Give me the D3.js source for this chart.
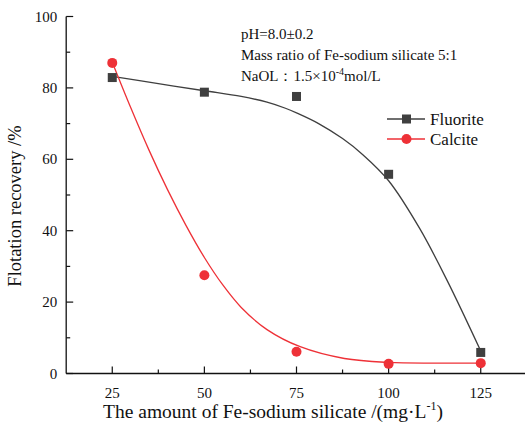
<!DOCTYPE html>
<html>
<head>
<meta charset="utf-8">
<script src="https://cdn.jsdelivr.net/npm/d3@7"></script>
<style>
  body { margin: 0; background: #fff; }
  text { font-family: "Liberation Serif", "Times New Roman", serif; fill: #111; }
</style>
</head>
<body>
<script>
// measured points
var dosage = [25, 50, 75, 100, 125];
var fluorite = [82.9, 78.8, 77.6, 55.8, 5.9];
var calcite = [87.0, 27.5, 6.1, 2.7, 2.9];

// fitted curves
var fluoriteFitX = [25, 37.5, 50, 60, 67, 72, 75, 81, 87.5, 93, 100, 108.5, 116, 125];
var fluoriteFit = [83.2, 81.2, 79.2, 77.6, 76.0, 74.3, 73.0, 70.0, 65.8, 61.3, 54.0, 40.5, 25.8, 6.3];
var calciteFitX = [25, 30, 35, 40, 45, 50, 55, 60, 67, 76, 88, 100, 112.5, 125];
var calciteFit = [87.2, 74.5, 62.5, 51.5, 41.5, 32.5, 24.8, 18.5, 12.3, 7.5, 4.2, 3.1, 2.9, 2.9];

var xTicks = [25, 50, 75, 100, 125];
var xMinor = [37.5, 62.5, 87.5, 112.5];
var yTicks = [0, 20, 40, 60, 80, 100];
var yMinor = [10, 30, 50, 70, 90];

var width = 525;
var height = 425;

var svg = d3.select("body").append("svg")
            .attr("width", width)
            .attr("height", height);

var x = d3.scaleLinear().domain([12.5, 137.5]).range([66.2, 526.8]);
var y = d3.scaleLinear().domain([0, 100]).range([373.5, 16.5]);

var axisColor = "#111";

// x axis, ticks pointing in
var xAxis = svg.append("g").attr("transform", "translate(0," + y(0) + ")");
xAxis.append("line")
     .attr("x1", x.range()[0]).attr("x2", x.range()[1])
     .attr("stroke", axisColor).attr("stroke-width", 1.3);
xAxis.selectAll(".maj").data(xTicks).enter().append("line")
     .attr("x1", function (d) { return x(d); }).attr("x2", function (d) { return x(d); })
     .attr("y1", 0).attr("y2", -7)
     .attr("stroke", axisColor).attr("stroke-width", 1.2);
xAxis.selectAll(".min").data(xMinor).enter().append("line")
     .attr("x1", function (d) { return x(d); }).attr("x2", function (d) { return x(d); })
     .attr("y1", 0).attr("y2", -4)
     .attr("stroke", axisColor).attr("stroke-width", 1.2);
xAxis.selectAll(".lab").data(xTicks).enter().append("text")
     .attr("x", function (d) { return x(d); })
     .attr("y", 24)
     .attr("text-anchor", "middle")
     .style("font-size", "15px")
     .text(function (d) { return d; });

// y axis
var yAxis = svg.append("g").attr("transform", "translate(" + x.range()[0] + ",0)");
yAxis.append("line")
     .attr("y1", y(0)).attr("y2", y(100))
     .attr("stroke", axisColor).attr("stroke-width", 1.3);
yAxis.selectAll(".maj").data(yTicks).enter().append("line")
     .attr("y1", function (d) { return y(d); }).attr("y2", function (d) { return y(d); })
     .attr("x1", 0).attr("x2", 7)
     .attr("stroke", axisColor).attr("stroke-width", 1.2);
yAxis.selectAll(".min").data(yMinor).enter().append("line")
     .attr("y1", function (d) { return y(d); }).attr("y2", function (d) { return y(d); })
     .attr("x1", 0).attr("x2", 4)
     .attr("stroke", axisColor).attr("stroke-width", 1.2);
yAxis.selectAll(".lab").data(yTicks).enter().append("text")
     .attr("x", -9)
     .attr("y", function (d) { return y(d) + 5; })
     .attr("text-anchor", "end")
     .style("font-size", "15px")
     .text(function (d) { return d; });

// axis titles
svg.append("text")
   .attr("x", 273).attr("y", 418)
   .attr("text-anchor", "middle")
   .style("font-size", "19.5px")
   .html('The amount of Fe-sodium silicate /(mg·L<tspan dy="-8" style="font-size:12px">-1</tspan><tspan dy="8">)</tspan>');

svg.append("text")
   .attr("transform", "translate(21,206) rotate(-90)")
   .attr("text-anchor", "middle")
   .style("font-size", "18.5px")
   .text("Flotation recovery /%");

// fit lines
var fitLine = d3.line()
                .x(function (d) { return x(d[0]); })
                .y(function (d) { return y(d[1]); })
                .curve(d3.curveCatmullRom.alpha(0.5));

var fluoriteColor = "#3f3f3f";
var calciteColor = "#ee3137";

svg.append("path")
   .attr("d", fitLine(d3.zip(fluoriteFitX, fluoriteFit)))
   .attr("fill", "none").attr("stroke", fluoriteColor).attr("stroke-width", 1.3);
svg.append("path")
   .attr("d", fitLine(d3.zip(calciteFitX, calciteFit)))
   .attr("fill", "none").attr("stroke", calciteColor).attr("stroke-width", 1.3);

// markers
svg.selectAll(".fl").data(dosage).enter().append("rect")
   .attr("x", function (d) { return x(d) - 4.5; })
   .attr("y", function (d, i) { return y(fluorite[i]) - 4.5; })
   .attr("width", 9).attr("height", 9)
   .attr("fill", fluoriteColor);
svg.selectAll(".ca").data(dosage).enter().append("circle")
   .attr("cx", function (d) { return x(d); })
   .attr("cy", function (d, i) { return y(calcite[i]); })
   .attr("r", 5)
   .attr("fill", calciteColor);

// legend
var legend = svg.append("g");
var items = [["Fluorite", fluoriteColor, "rect"], ["Calcite", calciteColor, "circle"]];
items.forEach(function (it, i) {
    var ly = 119 + i * 20;
    legend.append("line")
          .attr("x1", 387).attr("x2", 425).attr("y1", ly).attr("y2", ly)
          .attr("stroke", it[1]).attr("stroke-width", 1.3);
    if (it[2] == "rect") {
        legend.append("rect").attr("x", 402).attr("y", ly - 4.5)
              .attr("width", 9).attr("height", 9).attr("fill", it[1]);
    } else {
        legend.append("circle").attr("cx", 406.5).attr("cy", ly).attr("r", 5).attr("fill", it[1]);
    }
    legend.append("text")
          .attr("x", 430).attr("y", ly + 6)
          .style("font-size", "17px")
          .text(it[0]);
});

// conditions note
var note = svg.append("g").style("font-size", "15px");
note.append("text").attr("x", 241).attr("y", 39).text("pH=8.0±0.2");
note.append("text").attr("x", 241).attr("y", 60).text("Mass ratio of Fe-sodium silicate 5:1");
note.append("text").attr("x", 241).attr("y", 81)
    .html('NaOL：1.5×10<tspan dy="-6" style="font-size:10px">-4</tspan><tspan dy="6">mol/L</tspan>');
</script>
</body>
</html>
